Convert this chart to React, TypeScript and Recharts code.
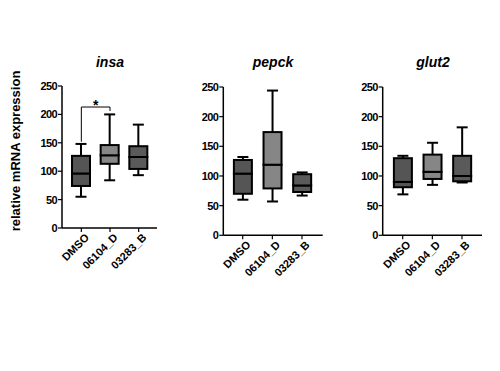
import React from 'react';
import { ComposedChart, Bar, XAxis, YAxis, ReferenceLine } from 'recharts';

const categories = ['DMSO', '06104_D', '03283_B'];
const boxFills = ['#555555', '#868686', '#5a5a5a'];
const yTicks = [0, 50, 100, 150, 200, 250];

const insaMin = [55, 84, 93];
const insaQ1 = [74, 113, 104];
const insaMedian = [96, 128, 125];
const insaQ3 = [127, 146, 144];
const insaMax = [148, 200, 182];

const pepckMin = [60, 57, 67];
const pepckQ1 = [70, 79, 73];
const pepckMedian = [104, 119, 84];
const pepckQ3 = [127, 174, 103];
const pepckMax = [132, 244, 106];

const glut2Min = [69, 85, 89];
const glut2Q1 = [81, 95, 91];
const glut2Median = [90, 107, 100];
const glut2Q3 = [130, 136, 134];
const glut2Max = [134, 156, 182];

// significance bracket for insa (DMSO vs 06104_D)
const sigLevel = 213;
const sigLegBottoms = [152, 206];
const sigLabel = '*';

const FONT = '"Liberation Sans", Arial, Helvetica, sans-serif';

function buildRows(mn: number[], q1: number[], md: number[], q3: number[], mx: number[]) {
  return categories.map((name, i) => ({
    name,
    base: mn[i],
    lowW: q1[i] - mn[i],
    boxLow: md[i] - q1[i],
    boxHigh: q3[i] - md[i],
    upW: mx[i] - q3[i],
  }));
}

const WhiskerLow = (props: any) => {
  const { x, y, width, height } = props;
  if (x == null || y == null) return null;
  const cx = x + width / 2;
  const bottom = y + height;
  return (
    <g>
      <line x1={cx} y1={y} x2={cx} y2={bottom} stroke="#000" strokeWidth={2} />
      <line x1={cx - 5.5} y1={bottom} x2={cx + 5.5} y2={bottom} stroke="#000" strokeWidth={2} />
    </g>
  );
};

const WhiskerHigh = (props: any) => {
  const { x, y, width, height } = props;
  if (x == null || y == null) return null;
  const cx = x + width / 2;
  const bottom = y + height;
  return (
    <g>
      <line x1={cx} y1={y} x2={cx} y2={bottom} stroke="#000" strokeWidth={2} />
      <line x1={cx - 5.5} y1={y} x2={cx + 5.5} y2={y} stroke="#000" strokeWidth={2} />
    </g>
  );
};

const BoxPart = (props: any) => {
  const { x, y, width, height, index } = props;
  if (x == null || y == null) return null;
  return (
    <rect
      x={x}
      y={y}
      width={width}
      height={Math.max(height, 0)}
      fill={boxFills[index % boxFills.length]}
      stroke="#000"
      strokeWidth={2}
    />
  );
};

const StarLabel = (props: any) => {
  const vb = props.viewBox || {};
  const x = (vb.x ?? 0) + (vb.width ?? 0) / 2;
  const y = vb.y ?? 0;
  return (
    <text
      x={x}
      y={y + 3}
      textAnchor="middle"
      fontFamily={FONT}
      fontWeight="bold"
      fontSize={14}
      fill="#000"
    >
      {sigLabel}
    </text>
  );
};

const XTick = (props: any) => {
  const { x, y, payload } = props;
  return (
    <g transform={`translate(${x},${y})`}>
      <text
        x={0}
        y={0}
        dx={3}
        dy={9}
        textAnchor="end"
        transform="rotate(-45)"
        fontFamily={FONT}
        fontWeight="bold"
        fontSize={11}
        fill="#000"
      >
        {payload.value}
      </text>
    </g>
  );
};

type PanelProps = {
  title: string;
  rows: any[];
  left: number;
  width: number;
  margin: { top: number; right: number; bottom: number; left: number };
  padL: number;
  padR: number;
  titleX: number;
  bracket?: boolean;
};

const Panel = ({ title, rows, left, width, margin, padL, padR, titleX, bracket }: PanelProps) => (
  <>
    <div
      style={{
        position: 'absolute',
        left: titleX - 40,
        width: 80,
        top: 55,
        textAlign: 'center',
        fontFamily: FONT,
        fontWeight: 'bold',
        fontStyle: 'italic',
        fontSize: 14,
        lineHeight: '14px',
        color: '#000',
      }}
    >
      {title}
    </div>
    <div style={{ position: 'absolute', left, top: 0 }}>
      <ComposedChart width={width} height={371} data={rows} margin={margin}>
        <XAxis
          dataKey="name"
          type="category"
          height={60}
          interval={0}
          padding={{ left: padL, right: padR }}
          axisLine={{ stroke: '#000', strokeWidth: 1.5 }}
          tickLine={{ stroke: '#000', strokeWidth: 1.2 }}
          tickSize={4}
          tick={<XTick />}
        />
        <YAxis
          type="number"
          domain={[0, 250]}
          ticks={yTicks}
          interval={0}
          width={40}
          axisLine={{ stroke: '#000', strokeWidth: 1.5 }}
          tickLine={{ stroke: '#000', strokeWidth: 1.2 }}
          tickSize={4}
          tickMargin={1}
          tick={{ fill: '#000', fontFamily: FONT, fontWeight: 'bold', fontSize: 11, letterSpacing: -0.6 }}
        />
        <Bar dataKey="base" stackId="b" barSize={18} fill="transparent" isAnimationActive={false} />
        <Bar dataKey="lowW" stackId="b" barSize={18} shape={<WhiskerLow />} isAnimationActive={false} />
        <Bar dataKey="boxLow" stackId="b" barSize={18} shape={<BoxPart />} isAnimationActive={false} />
        <Bar dataKey="boxHigh" stackId="b" barSize={18} shape={<BoxPart />} isAnimationActive={false} />
        <Bar dataKey="upW" stackId="b" barSize={18} shape={<WhiskerHigh />} isAnimationActive={false} />
        {bracket && (
          <ReferenceLine
            segment={[{ x: categories[0], y: sigLegBottoms[0] }, { x: categories[0], y: sigLevel }]}
            stroke="#000"
            strokeWidth={1}
            ifOverflow="visible"
          />
        )}
        {bracket && (
          <ReferenceLine
            segment={[{ x: categories[1], y: sigLegBottoms[1] }, { x: categories[1], y: sigLevel }]}
            stroke="#000"
            strokeWidth={1}
            ifOverflow="visible"
          />
        )}
        {bracket && (
          <ReferenceLine
            segment={[{ x: categories[0], y: sigLevel }, { x: categories[1], y: sigLevel }]}
            stroke="#000"
            strokeWidth={1}
            ifOverflow="visible"
            label={<StarLabel />}
          />
        )}
      </ComposedChart>
    </div>
  </>
);

export default function App() {
  return (
    <div style={{ position: 'absolute', left: 0, top: 0, width: 500, height: 371 }}>
      <div
        style={{
          position: 'absolute',
          left: 15,
          top: 151,
          transform: 'translate(-50%, -50%) rotate(-90deg)',
          whiteSpace: 'nowrap',
          fontFamily: FONT,
          fontWeight: 'bold',
          fontSize: 13,
          lineHeight: '13px',
          color: '#000',
          zIndex: 2,
        }}
      >
        relative mRNA expression
      </div>
      <Panel
        title="insa"
        rows={buildRows(insaMin, insaQ1, insaMedian, insaQ3, insaMax)}
        left={0}
        width={165}
        margin={{ top: 86, right: 8, bottom: 83, left: 22 }}
        padL={5}
        padR={4}
        titleX={110}
        bracket
      />
      <Panel
        title="pepck"
        rows={buildRows(pepckMin, pepckQ1, pepckMedian, pepckQ3, pepckMax)}
        left={165}
        width={165}
        margin={{ top: 87, right: 7.3, bottom: 75.7, left: 18.3 }}
        padL={4.6}
        padR={5.9}
        titleX={273}
      />
      <Panel
        title="glut2"
        rows={buildRows(glut2Min, glut2Q1, glut2Median, glut2Q3, glut2Max)}
        left={330}
        width={170}
        margin={{ top: 87, right: 18, bottom: 75.7, left: 12.7 }}
        padL={5.2}
        padR={5.2}
        titleX={433}
      />
    </div>
  );
}
